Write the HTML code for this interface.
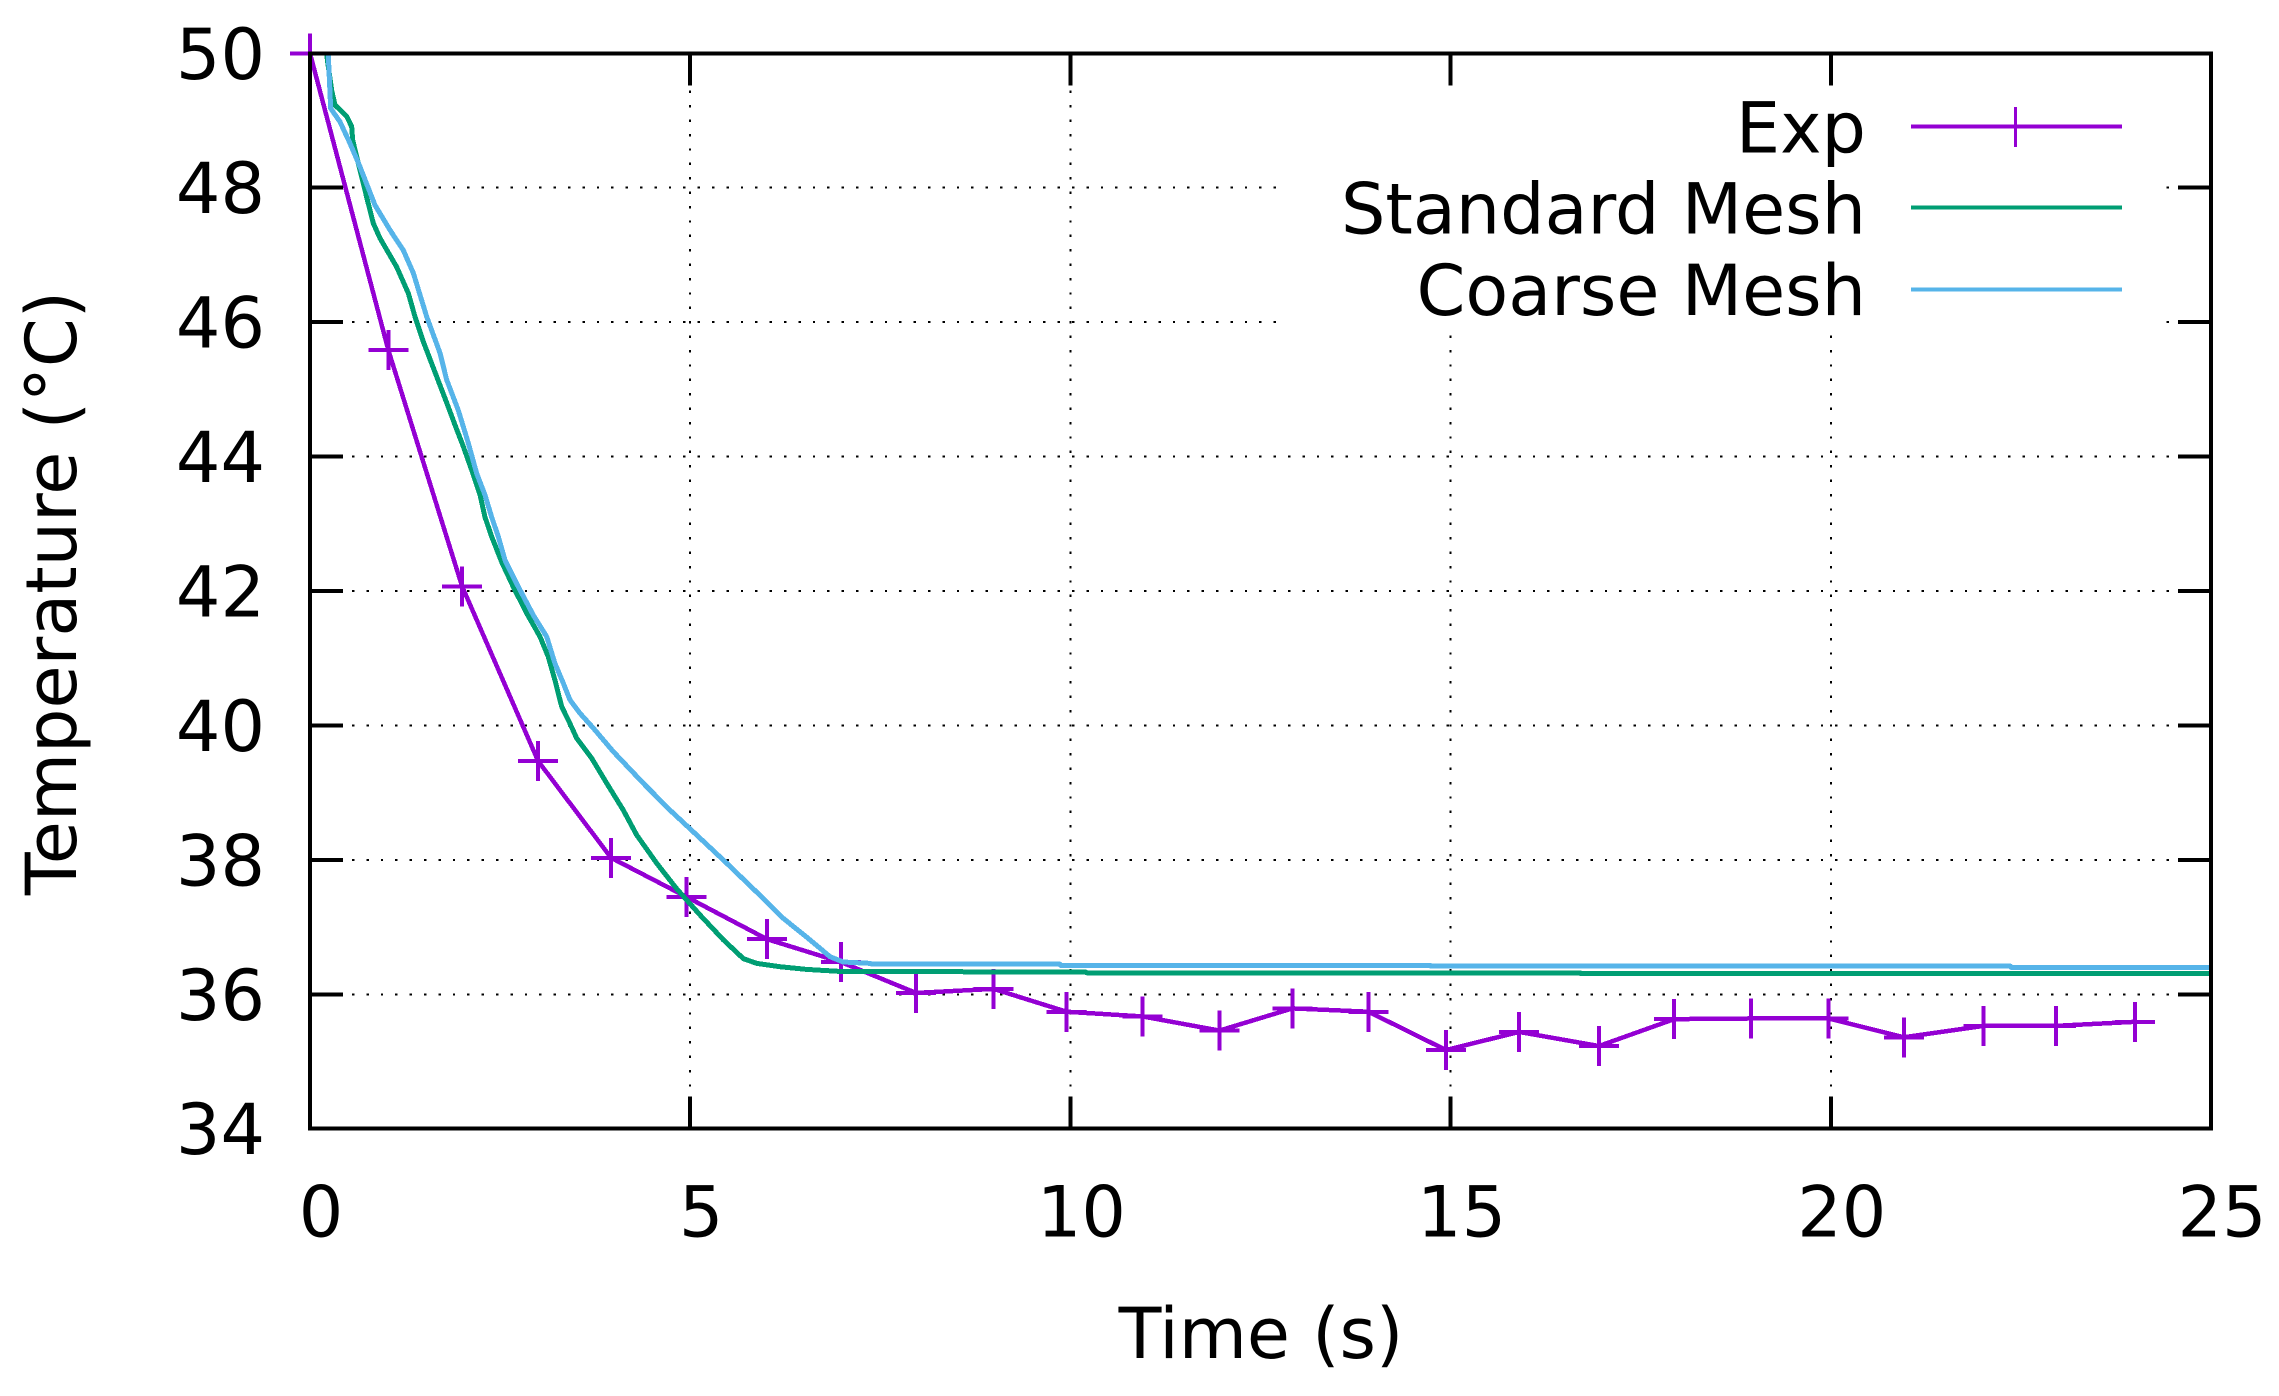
<!DOCTYPE html>
<html lang="en">
<head>
<meta charset="utf-8">
<title>Temperature vs Time</title>
<style>
html,body{margin:0;padding:0;background:#fff;width:2279px;height:1396px;overflow:hidden}
svg{display:block;position:absolute;left:0;top:0}
text{font-family:"DejaVu Sans","Liberation Sans",sans-serif;font-size:70px;fill:#000}
</style>
</head>
<body>
<svg id="chart" xmlns="http://www.w3.org/2000/svg" width="2279" height="1396" viewBox="0 0 2279 1396">
  <defs>
    <clipPath id="plot-clip"><rect x="310" y="53" width="1901" height="1076"/></clipPath>
  </defs>
  <rect x="0" y="0" width="2279" height="1396" fill="#ffffff"/>
  <g id="grid"></g>
  <rect x="1282" y="55" width="878" height="273" fill="#ffffff"/>
  <g id="series"></g>
  <g id="frame"></g>
  <g id="labels"></g>
  <text x="1261" y="1358" text-anchor="middle">Time (s)</text>
  <text transform="translate(76,593) rotate(-90)" text-anchor="middle">Temperature (°C)</text>
  <g>
    <text x="1866" y="152.5" text-anchor="end">Exp</text>
    <line x1="1911" y1="126.7" x2="2122" y2="126.7" stroke="#9400D3" stroke-width="4" shape-rendering="crispEdges"/>
    <line x1="2015.7" y1="107" x2="2015.7" y2="147" stroke="#9400D3" stroke-width="3" shape-rendering="crispEdges"/>
    <text x="1866" y="233.5" text-anchor="end">Standard Mesh</text>
    <line x1="1911" y1="207.7" x2="2122" y2="207.7" stroke="#009E73" stroke-width="4" shape-rendering="crispEdges"/>
    <text x="1866" y="315" text-anchor="end">Coarse Mesh</text>
    <line x1="1911" y1="289.3" x2="2122" y2="289.3" stroke="#56B4E9" stroke-width="4" shape-rendering="crispEdges"/>
  </g>
</svg>
<script>
const xTicks = [0, 5, 10, 15, 20, 25];
const yTicks = [34, 36, 38, 40, 42, 44, 46, 48, 50];

const expTime = [0, 1.03, 2.0, 3.0, 3.96, 4.95, 6.01, 6.98, 7.97, 8.99, 9.95, 10.95, 11.96, 12.92, 13.92, 14.94, 15.9, 16.95, 17.94, 18.95, 19.97, 20.96, 22.01, 22.96, 24.0];
const expTemp = [50, 45.585, 42.07, 39.47, 38.03, 37.45, 36.82, 36.48, 36.02, 36.08, 35.74, 35.67, 35.46, 35.79, 35.74, 35.17, 35.44, 35.23, 35.63, 35.64, 35.64, 35.36, 35.53, 35.53, 35.59];

const standardTime = [0.22, 0.285, 0.329, 0.483, 0.548, 0.561, 0.658, 0.754, 0.833, 0.92, 1.14, 1.293, 1.381, 1.49, 1.666, 1.798, 1.907, 2.016, 2.126, 2.236, 2.301, 2.389, 2.521, 2.674, 2.849, 3.025, 3.134, 3.222, 3.31, 3.397, 3.507, 3.705, 3.902, 4.12, 4.296, 4.559, 4.822, 5.129, 5.436, 5.699, 5.874, 6.181, 6.532, 6.97, 10.2, 10.21, 16.7, 16.71, 25];
const standardTemp = [49.97, 49.45, 49.23, 49.06, 48.91, 48.71, 48.26, 47.82, 47.47, 47.25, 46.82, 46.43, 46.08, 45.71, 45.19, 44.8, 44.47, 44.15, 43.8, 43.43, 43.1, 42.81, 42.43, 42.06, 41.67, 41.32, 41.02, 40.67, 40.28, 40.08, 39.81, 39.51, 39.14, 38.74, 38.37, 37.95, 37.57, 37.18, 36.81, 36.53, 36.46, 36.41, 36.37, 36.34, 36.33, 36.32, 36.32, 36.31, 36.31];

const coarseTime = [0.241, 0.272, 0.395, 0.526, 0.658, 0.855, 1.052, 1.227, 1.359, 1.535, 1.71, 1.798, 1.95, 2.082, 2.192, 2.301, 2.389, 2.476, 2.564, 2.718, 2.937, 3.113, 3.222, 3.331, 3.419, 3.551, 3.726, 3.989, 4.383, 4.734, 5.085, 5.48, 5.874, 6.224, 6.575, 6.838, 7.014, 7.365, 7.39, 9.86, 9.87, 14.73, 14.74, 22.36, 22.37, 25];
const coarseTemp = [49.97, 49.18, 48.98, 48.66, 48.31, 47.74, 47.37, 47.07, 46.73, 46.08, 45.54, 45.14, 44.69, 44.2, 43.75, 43.43, 43.1, 42.81, 42.46, 42.11, 41.64, 41.32, 40.92, 40.63, 40.38, 40.18, 39.96, 39.61, 39.14, 38.74, 38.37, 37.95, 37.52, 37.13, 36.81, 36.56, 36.48, 36.46, 36.45, 36.45, 36.43, 36.43, 36.42, 36.42, 36.4, 36.4];

const plotLeft = 310, plotRight = 2211, plotTop = 53.3, plotBottom = 1128.7;
const xMin = 0, xMax = 25, yMin = 34, yMax = 50;
function xScale(t) { return plotLeft + (t - xMin) / (xMax - xMin) * (plotRight - plotLeft); }
function yScale(v) { return plotBottom - (v - yMin) / (yMax - yMin) * (plotBottom - plotTop); }

const NS = 'http://www.w3.org/2000/svg';
function makeLine(x1, y1, x2, y2, color, width) {
  const el = document.createElementNS(NS, 'line');
  el.setAttribute('x1', x1);
  el.setAttribute('y1', y1);
  el.setAttribute('x2', x2);
  el.setAttribute('y2', y2);
  el.setAttribute('stroke', color);
  el.setAttribute('stroke-width', width);
  el.setAttribute('shape-rendering', 'crispEdges');
  return el;
}
function makeLabel(x, y, anchor, str) {
  const el = document.createElementNS(NS, 'text');
  el.setAttribute('x', x);
  el.setAttribute('y', y);
  el.setAttribute('text-anchor', anchor);
  el.textContent = str;
  return el;
}
function makePath(times, temps, color, width, clipped) {
  const el = document.createElementNS(NS, 'polyline');
  el.setAttribute('points', times.map((t, i) => xScale(t).toFixed(2) + ',' + yScale(temps[i]).toFixed(2)).join(' '));
  el.setAttribute('fill', 'none');
  el.setAttribute('stroke', color);
  el.setAttribute('stroke-width', width);
  el.setAttribute('stroke-linejoin', 'round');
  el.setAttribute('shape-rendering', 'crispEdges');
  if (clipped) el.setAttribute('clip-path', 'url(#plot-clip)');
  return el;
}

const grid = document.getElementById('grid');
const frame = document.getElementById('frame');
const labels = document.getElementById('labels');
const seriesGroup = document.getElementById('series');

xTicks.forEach(function (t) {
  const x = xScale(t);
  if (t > xMin && t < xMax) {
    const g = makeLine(x, plotBottom, x, plotTop, '#000', 2);
    g.setAttribute('stroke-dasharray', '2.4 12');
    g.setAttribute('stroke-dashoffset', '1.2');
    
    
    grid.appendChild(g);
    const t1 = makeLine(x, plotBottom, x, plotBottom - 32, '#000', 4);
    
    
    frame.appendChild(t1);
    const t2 = makeLine(x, plotTop, x, plotTop + 32, '#000', 4);
    
    
    frame.appendChild(t2);
  }
  const lab = makeLabel(x + 11, 1236.5, 'middle', String(t));
  
  
  labels.appendChild(lab);
});

yTicks.forEach(function (v) {
  const y = yScale(v);
  if (v > yMin && v < yMax) {
    const g = makeLine(plotLeft, y, plotRight, y, '#000', 2);
    g.setAttribute('stroke-dasharray', '2.4 12');
    g.setAttribute('stroke-dashoffset', '1.2');
    
    
    grid.appendChild(g);
    const t1 = makeLine(plotLeft, y, plotLeft + 33, y, '#000', 4);
    
    
    frame.appendChild(t1);
    const t2 = makeLine(plotRight, y, plotRight - 33, y, '#000', 4);
    
    
    frame.appendChild(t2);
  }
  const lab = makeLabel(265, y + 25.5, 'end', String(v));
  
  
  labels.appendChild(lab);
});

const spine = document.createElementNS(NS, 'rect');
spine.setAttribute('x', plotLeft);
spine.setAttribute('y', plotTop);
spine.setAttribute('width', plotRight - plotLeft);
spine.setAttribute('height', plotBottom - plotTop);
spine.setAttribute('fill', 'none');
spine.setAttribute('stroke', '#000');
spine.setAttribute('stroke-width', '4');
spine.setAttribute('shape-rendering', 'crispEdges');


frame.appendChild(spine);

const expLine = makePath(expTime, expTemp, '#9400D3', 4.5, false);


seriesGroup.appendChild(expLine);

expTime.forEach(function (t, i) {
  const x = xScale(t), y = yScale(expTemp[i]);
  const h = makeLine(x - 20, y, x + 20, y, '#9400D3', 4);
  
  
  seriesGroup.appendChild(h);
  const v = makeLine(x, y - 20, x, y + 20, '#9400D3', 4);
  
  
  seriesGroup.appendChild(v);
});

const standardLine = makePath(standardTime, standardTemp, '#009E73', 5, true);


seriesGroup.appendChild(standardLine);

const coarseLine = makePath(coarseTime, coarseTemp, '#56B4E9', 5, true);


seriesGroup.appendChild(coarseLine);
</script>
</body>
</html>
